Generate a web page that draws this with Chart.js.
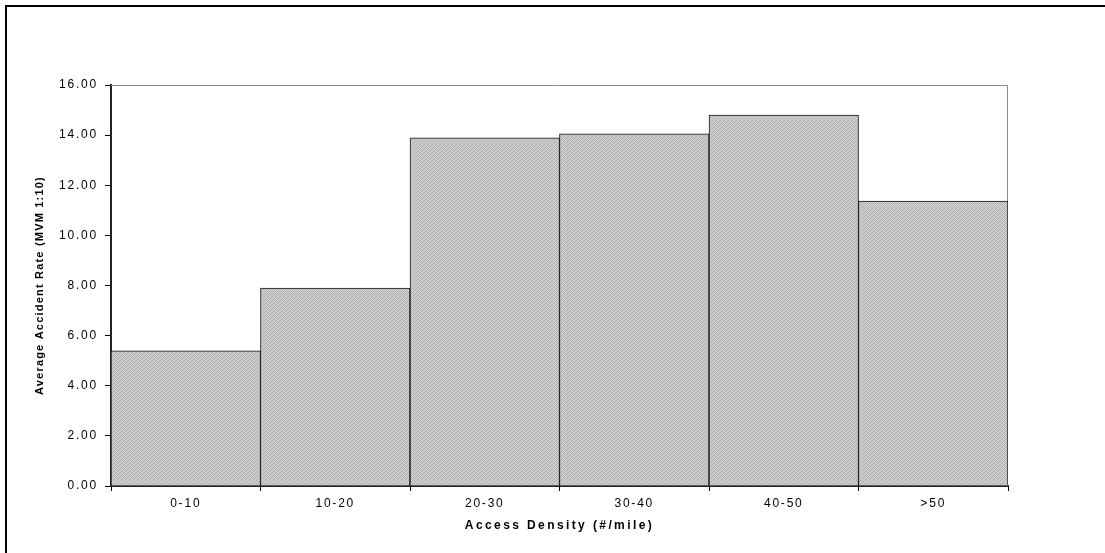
<!DOCTYPE html>
<html>
<head>
<meta charset="utf-8">
<title>Average Accident Rate by Access Density</title>
<script src="https://cdn.jsdelivr.net/npm/chart.js@4.4.1/dist/chart.umd.min.js"></script>
<style>
    body { margin: 0; background: #fff; }
    #wrap { position: relative; width: 1105px; height: 553px; overflow: hidden; }
    #frame {
        position: absolute; left: 5px; top: 5px; width: 1200px; height: 700px;
        border-top: 2px solid #000; border-left: 2px solid #000;
    }
    #chart { position: absolute; left: 0; top: 0; }
</style>
</head>
<body>
<div id="wrap">
    <div id="frame"></div>
    <canvas id="chart" width="1105" height="553"></canvas>
</div>
<script>
const categories = ["0-10", "10-20", "20-30", "30-40", "40-50", ">50"];
const accidentRates = [5.39, 7.90, 13.89, 14.05, 14.80, 11.37];
const yTicks = [0, 2, 4, 6, 8, 10, 12, 14, 16];

const xTitle = "Access Density (#/mile)";
const yTitle = "Average Accident Rate (MVM 1:10)";

// fine grey hatch like the old spreadsheet fill
function makeHatch() {
    const c = document.createElement("canvas");
    c.width = 4;
    c.height = 4;
    const g = c.getContext("2d");
    for (let x = 0; x < 4; x++) {
        for (let y = 0; y < 4; y++) {
            const k = (x + y) % 4;
            g.fillStyle = k === 0 ? "#aaaaaa" : (k === 2 ? "#c2c2c2" : "#d0d0d0");
            g.fillRect(x, y, 1, 1);
        }
    }
    return g.createPattern(c, "repeat");
}

// letter spacing for axis text (canvas state, so wrap the scale's draw calls)
function spaced(fn, px) {
    return function (...args) {
        const ctx = this.ctx;
        ctx.save();
        ctx.letterSpacing = px;
        fn.apply(this, args);
        ctx.restore();
    };
}

const spacingPlugin = {
    id: "spacing",
    afterLayout(chart) {
        const sx = chart.scales.x, sy = chart.scales.y;
        if (!sx._spaced) {
            sx.drawLabels = spaced(sx.drawLabels, "1.8px");
            sx.drawTitle = spaced(sx.drawTitle, "2.4px");
            sx._spaced = true;
        }
        if (!sy._spaced) {
            sy.drawLabels = spaced(sy.drawLabels, "1.8px");
            sy.drawTitle = spaced(sy.drawTitle, "1.2px");
            sy._spaced = true;
        }
    }
};

// grey top/right edge of the plot area
const plotFrame = {
    id: "plotFrame",
    beforeDatasetsDraw(chart) {
        const { ctx, chartArea: a } = chart;
        ctx.save();
        ctx.strokeStyle = "#8a8a8a";
        ctx.lineWidth = 1;
        ctx.beginPath();
        ctx.moveTo(a.left, a.top + 0.5);
        ctx.lineTo(a.right - 0.5, a.top + 0.5);
        ctx.lineTo(a.right - 0.5, a.bottom);
        ctx.stroke();
        ctx.restore();
    }
};

const ctx = document.getElementById("chart").getContext("2d");

new Chart(ctx, {
    type: "bar",
    data: {
        labels: categories,
        datasets: [{
            label: "Average Accident Rate",
            data: accidentRates,
            backgroundColor: makeHatch(),
            borderColor: "#111",
            borderWidth: 1,
            barPercentage: 1,
            categoryPercentage: 1
        }]
    },
    options: {
        responsive: false,
        devicePixelRatio: 1,
        animation: false,
        layout: { padding: { top: 85, right: 97, left: 0, bottom: 0 } },
        plugins: {
            legend: { display: false },
            tooltip: { enabled: false }
        },
        scales: {
            x: {
                offset: true,
                afterFit: (s) => { s.height = 67; },
                grid: { offset: true, drawOnChartArea: false, tickLength: 5, color: "#000" },
                border: { color: "#222", width: 2 },
                ticks: {
                    color: "#000",
                    padding: 5,
                    font: { family: "Arial, 'Liberation Sans', sans-serif", size: 12 }
                },
                title: {
                    display: true,
                    text: xTitle,
                    color: "#000",
                    padding: { top: 0, bottom: 20 },
                    font: { family: "Arial, 'Liberation Sans', sans-serif", size: 12, weight: "bold" }
                }
            },
            y: {
                min: 0,
                max: 16,
                afterFit: (s) => { s.width = 111; },
                afterBuildTicks: (s) => { s.ticks = yTicks.map(v => ({ value: v })); },
                grid: { drawOnChartArea: false, tickLength: 6, color: "#000" },
                border: { color: "#222", width: 2 },
                ticks: {
                    color: "#000",
                    padding: 7,
                    callback: (v) => Number(v).toFixed(2),
                    font: { family: "Arial, 'Liberation Sans', sans-serif", size: 12 }
                },
                title: {
                    display: true,
                    text: yTitle,
                    color: "#000",
                    padding: { top: 33, bottom: 0 },
                    font: { family: "Arial, 'Liberation Sans', sans-serif", size: 11, weight: "bold" }
                }
            }
        }
    },
    plugins: [spacingPlugin, plotFrame]
});
</script>
</body>
</html>
